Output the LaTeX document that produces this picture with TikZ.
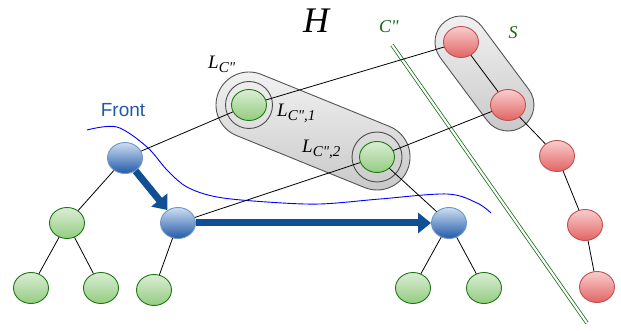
\documentclass[tikz,border=0pt]{standalone}
\usepackage{fontspec}
\setmainfont{Liberation Serif}
\newfontfamily\frontfont{Liberation Sans}
\usetikzlibrary{arrows.meta,calc,shapes.geometric}
\definecolor{arrowblue}{RGB}{16,78,150}
\definecolor{fronttext}{RGB}{30,90,165}
\definecolor{darkgr}{RGB}{15,105,15}
\newcommand\Qt{\XeTeXglyph\XeTeXcharglyph"22\relax}
\newcommand\Lab[1]{{\fontsize{19}{19}\selectfont\itshape L\raisebox{-4pt}{\fontsize{15}{15}\selectfont #1}}}
\tikzset{
  vnode/.style={ellipse, minimum width=35pt, minimum height=31pt, inner sep=0pt, line width=0.9pt},
  bnode/.style={vnode, top color={rgb,255:red,205;green,222;blue,242}, bottom color={rgb,255:red,35;green,90;blue,168}, draw={rgb,255:red,110;green,150;blue,200}},
  gnode/.style={vnode, top color={rgb,255:red,218;green,237;blue,212}, bottom color={rgb,255:red,148;green,204;blue,128}, draw={rgb,255:red,30;green,120;blue,20}},
  rnode/.style={vnode, top color={rgb,255:red,249;green,205;blue,205}, bottom color={rgb,255:red,226;green,100;blue,100}, draw={rgb,255:red,190;green,80;blue,80}},
  capsule/.style={top color=gray!8, bottom color=gray!45, draw=gray!65!black, line width=0.9pt},
  ring/.style={draw=gray!60!black, line width=0.9pt},
  edge/.style={draw=black, line width=0.8pt},
  bigarrow/.style={draw=arrowblue, line width=7pt, -{Triangle[length=13pt,width=20pt]}},
  frontline/.style={draw=blue, line width=0.9pt},
  sepline/.style={draw=darkgr, double=white, double distance=2.2pt, line width=0.75pt}
}
\begin{document}
\begin{tikzpicture}[x=1pt,y=-1pt]
\useasboundingbox (0,0) rectangle (621,331);
% capsules
\begin{scope}[shift={(249,105)},rotate=-22.1]
  \draw[capsule, rounded corners=33pt] (-33,-33) rectangle (171.2,33);
\end{scope}
\begin{scope}[shift={(461,42)},rotate=-53.3]
  \draw[capsule, rounded corners=26pt] (-26,-26) rectangle (104.6,26);
\end{scope}
\draw[ring] (249,105) circle[radius=23.5pt];
\draw[ring] (377,157) circle[radius=25pt];
% separator
\draw[sepline] (392,45) -- (587,323);
% front curve
\draw[frontline] plot[smooth, tension=0.55] coordinates {(87,130) (117,127) (147,147) (167,170) (187,187) (217,197) (267,202) (320,204) (380,199) (447,194) (477,203) (491,213)};
% nodes
\node[bnode] (b1) at (125,158) {};
\node[bnode] (b2) at (178,223) {};
\node[bnode] (b3) at (449,223) {};
\node[gnode] (g1) at (67,223) {};
\node[gnode] (g2) at (31,288) {};
\node[gnode] (g3) at (101,288) {};
\node[gnode] (g4) at (154,290) {};
\node[gnode] (g5) at (413,288) {};
\node[gnode] (g6) at (484,288) {};
\node[gnode] (lc1) at (249,105) {};
\node[gnode] (lc2) at (377,157) {};
\node[rnode] (r1) at (461,42) {};
\node[rnode] (r2) at (508,105) {};
\node[rnode] (r3) at (557,156) {};
\node[rnode] (r4) at (585,225) {};
\node[rnode] (r5) at (597,287) {};
% edges
\draw[edge] (b1) -- (g1);
\draw[edge] (g1) -- (g2);
\draw[edge] (g1) -- (g3);
\draw[edge] (b2) -- (g4);
\draw[edge] (b3) -- (g5);
\draw[edge] (b3) -- (g6);
\draw[edge] (b1) -- (lc1);
\draw[edge] (lc1) -- (r1);
\draw[edge] (b2) -- (lc2);
\draw[edge] (lc2) -- (r2);
\draw[edge] (lc2) -- (b3);
\draw[edge] (r1) -- (r2);
\draw[edge] (r2) -- (r3);
\draw[edge] (r3) -- (r4);
\draw[edge] (r4) -- (r5);
% thick arrows
\draw[bigarrow] (b1) -- (b2);
\draw[bigarrow] (b2) -- (b3);
% labels
\node[font=\fontsize{36}{36}\selectfont\itshape] (h) at (316,21) {H};
\node[font=\fontsize{18}{18}\selectfont\itshape, text=darkgr] (cl) at (389,27) {C\Qt};
\node[font=\fontsize{18}{18}\selectfont\itshape, text=darkgr] (sl) at (513,33) {S};
\node[font=\frontfont\fontsize{19}{19}\selectfont, text=fronttext] (fl) at (123,110) {Front};
\node[anchor=base west, inner sep=0pt] (l0) at (208,69) {\Lab{C\Qt}};
\node[anchor=base west, inner sep=0pt] (l1) at (277,117) {\Lab{C\Qt,1}};
\node[anchor=base west, inner sep=0pt] (l2) at (302,153) {\Lab{C\Qt,2}};
\end{tikzpicture}
\end{document}
